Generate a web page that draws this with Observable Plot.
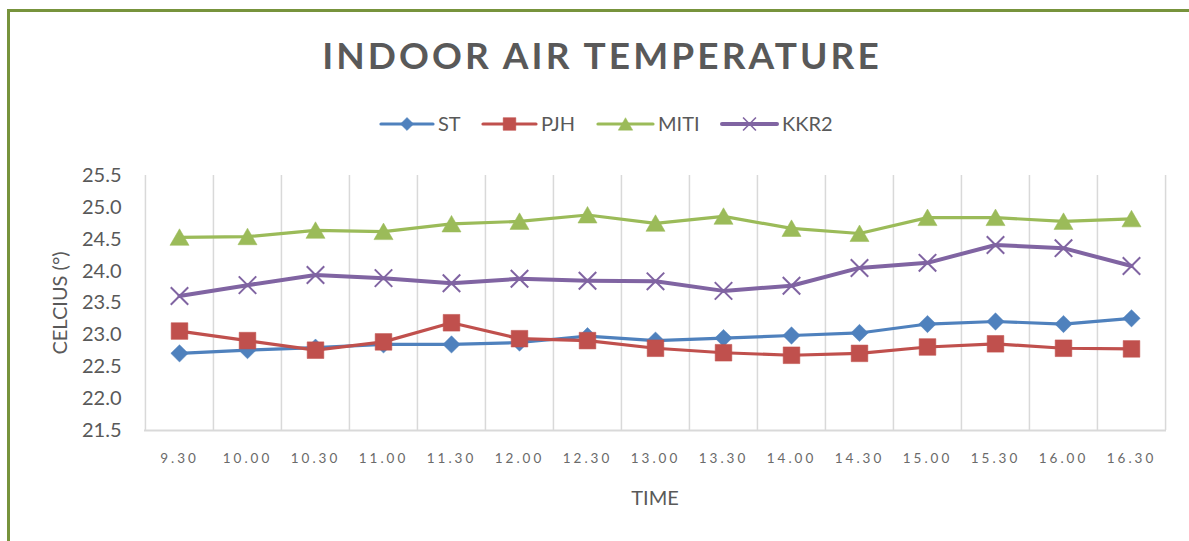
<!DOCTYPE html>
<html>
<head>
<meta charset="utf-8">
<script src="https://cdn.jsdelivr.net/npm/d3@7"></script>
<script src="https://cdn.jsdelivr.net/npm/@observablehq/plot@0.6"></script>
<style>
  html, body { margin: 0; padding: 0; background: #fff; }
  #wrap { position: relative; width: 1189px; height: 541px; overflow: hidden; background: #fff; font-family: Lato, "Open Sans", sans-serif; color: #595959; }
  .abs { position: absolute; }
  #title { left: 202px; width: 800px; top: 30px; text-align: center; font-size: 37px; font-weight: 700; letter-spacing: 3.1px; color: #595959; line-height: 50px; }
  #ylab { left: 59px; top: 303px; transform: translate(-50%, -50%) rotate(-90deg); font-size: 20px; white-space: nowrap; }
  #xlab { left: 655px; top: 497px; transform: translate(-50%, -50%); font-size: 20px; }
  #bt { left: 7px; top: 9px; width: 1182px; height: 3px; background: #77933c; }
  #bl { left: 7px; top: 9px; width: 3px; height: 532px; background: #77933c; }
</style>
</head>
<body>
<div id="wrap">
  <div id="chart" class="abs" style="left:0;top:0"></div>
  <div id="bt" class="abs"></div>
  <div id="bl" class="abs"></div>
  <div id="title" class="abs">INDOOR AIR TEMPERATURE</div>
  <div id="legend" class="abs" style="left:0;top:104px"></div>
  <div id="ylab" class="abs">CELCIUS (°)</div>
  <div id="xlab" class="abs">TIME</div>
</div>
<script>
const times = ["9.30","10.00","10.30","11.00","11.30","12.00","12.30","13.00","13.30","14.00","14.30","15.00","15.30","16.00","16.30"];
const seriesNames = ["ST","PJH","MITI","KKR2"];
const seriesColors = ["#4f81bd","#c0504d","#9bbb59","#8064a2"];
const st   = [22.71,22.76,22.80,22.85,22.85,22.88,22.98,22.91,22.95,22.99,23.03,23.17,23.21,23.17,23.26];
const pjh  = [23.06,22.91,22.76,22.89,23.19,22.94,22.91,22.79,22.72,22.68,22.71,22.81,22.86,22.79,22.78];
const miti = [24.53,24.54,24.64,24.62,24.74,24.78,24.88,24.75,24.86,24.67,24.59,24.84,24.84,24.78,24.82];
const kkr2 = [23.61,23.78,23.94,23.89,23.81,23.88,23.85,23.84,23.69,23.77,24.05,24.13,24.41,24.36,24.08];
const yTicks = [21.5,22.0,22.5,23.0,23.5,24.0,24.5,25.0,25.5];

const seriesValues = [st, pjh, miti, kkr2];
const W = 1189, H = 541, ML = 144, MR = 23, MT = 175, MB = 111;
const step = (W - ML - MR) / times.length;

const symbols = [d3.symbolDiamond2, d3.symbolSquare, d3.symbolTriangle, d3.symbolTimes];
const symR = [7.8, 9.4, 7.1, 8.0];
const lineW = [3.2, 3.2, 3.2, 4];

const marks = [
  Plot.ruleX(times, {dx: -step / 2, stroke: "#d9d9d9", strokeWidth: 1.5}),
  Plot.ruleX([times[times.length - 1]], {dx: step / 2, stroke: "#d9d9d9", strokeWidth: 1.5}),
  Plot.ruleY([yTicks[0]], {stroke: "#d9d9d9", strokeWidth: 2}),
  Plot.axisY({ticks: yTicks, tickSize: 0, tickPadding: 23, tickFormat: d3.format(".1f"), fontSize: 20, label: null, fill: "#595959"}),
  Plot.axisX({tickSize: 0, tickPadding: 23, fontSize: 13.5, label: null, fill: "#6a6a6a"})
];
seriesNames.forEach((name, i) => {
  const rows = times.map((t, j) => ({time: t, value: seriesValues[i][j]}));
  marks.push(Plot.line(rows, {x: "time", y: "value", stroke: seriesColors[i], strokeWidth: lineW[i]}));
});
seriesNames.forEach((name, i) => {
  const rows = times.map((t, j) => ({time: t, value: seriesValues[i][j]}));
  const opts = {x: "time", y: "value", symbol: symbols[i], r: symR[i], stroke: seriesColors[i]};
  if (i === 3) { opts.fill = "none"; opts.strokeWidth = 2; }
  else { opts.fill = seriesColors[i]; opts.strokeWidth = 0.5; }
  if (i === 2) opts.dy = 2.5;
  marks.push(Plot.dot(rows, opts));
});

const chart = Plot.plot({
  width: W, height: H,
  marginLeft: ML, marginRight: MR, marginTop: MT, marginBottom: MB,
  style: {fontFamily: "Lato, 'Open Sans', sans-serif", background: "transparent", color: "#595959"},
  x: {type: "point", domain: times, padding: 0.5},
  y: {domain: [21.5, 25.5]},
  marks
});
chart.querySelectorAll('[aria-label="x-axis tick label"] text').forEach(t => t.style.letterSpacing = "3px");
document.getElementById("chart").appendChild(chart);

// legend
const leg = d3.select("#legend").append("svg").attr("width", W).attr("height", 40);
const legX = [381, 483, 598, 722];
const legLen = [52, 53, 55, 55];
const legSym = [110, 160, 90, 110];
seriesNames.forEach((name, i) => {
  const g = leg.append("g");
  const x0 = legX[i], x1 = legX[i] + legLen[i], cy = 20;
  g.append("line").attr("x1", x0).attr("x2", x1).attr("y1", cy).attr("y2", cy)
    .attr("stroke", seriesColors[i]).attr("stroke-width", lineW[i]).attr("stroke-linecap", "round");
  g.append("path").attr("d", d3.symbol(symbols[i], legSym[i])())
    .attr("transform", `translate(${(x0 + x1) / 2},${cy + (i === 2 ? 2 : 0)})`)
    .attr("fill", i === 3 ? "none" : seriesColors[i])
    .attr("stroke", seriesColors[i]).attr("stroke-width", i === 3 ? 1.6 : 0.5);
  g.append("text").attr("x", x1 + 5).attr("y", cy).attr("dy", "0.36em")
    .attr("font-size", 20).attr("fill", "#595959").attr("font-family", "Lato, 'Open Sans', sans-serif")
    .text(name);
});
</script>
</body>
</html>
